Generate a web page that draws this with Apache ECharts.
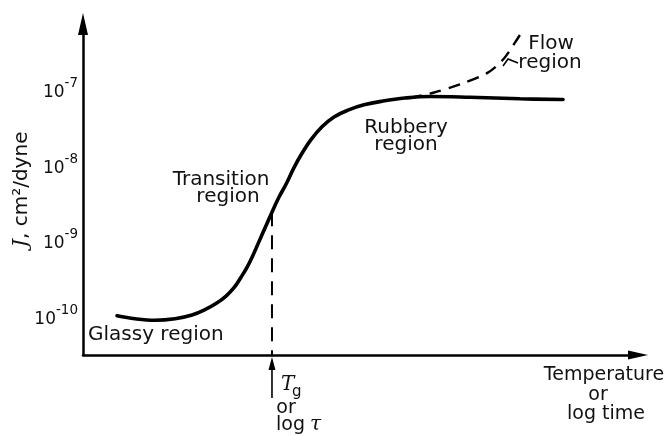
<!DOCTYPE html>
<html>
<head>
<meta charset="utf-8">
<script src="https://cdn.jsdelivr.net/npm/echarts@6/dist/echarts.min.js"></script>
<style>
  html, body { margin: 0; padding: 0; background: #fff; }
  #chart { width: 671px; height: 436px; }
</style>
</head>
<body>
<div id="chart"></div>
<script>
// Creep compliance J (log10 of cm^2/dyne) against temperature / log time (arbitrary units)
const curveX    = [6.13, 9.37, 12.97, 16.58, 19.64, 21.98, 23.96, 25.77, 27.21, 28.47, 29.55, 30.63, 31.71, 32.79, 34.05,
                   35.32, 36.58, 38.02, 39.46, 41.08, 43.06, 45.23, 47.75, 50.63, 54.05, 58.02, 62.52, 69.73, 78.74, 86.49];
const curveLogJ = [-9.95, -9.99, -10.01, -9.99, -9.94, -9.87, -9.79, -9.69, -9.58, -9.44, -9.31, -9.15, -8.97, -8.79, -8.58,
                   -8.38, -8.21, -7.99, -7.80, -7.62, -7.45, -7.32, -7.23, -7.16, -7.11, -7.07, -7.05, -7.06, -7.08, -7.09];

// viscous flow branch leaving the rubbery plateau
const flowX    = [58.9, 63.1, 67.9, 72.8, 75.7, 77.8, 79.1];
const flowLogJ = [-7.07, -7.00, -6.89, -6.74, -6.56, -6.34, -6.19];

// glass transition marker
const tgX = 34.05;
const tgLogJ = -8.58;

// decade labels on the compliance axis
const yTickExponents = [-10, -9, -8, -7];

const xRange = [0, 100];
const yRange = [-10.47, -6.09];

const SANS = '"DejaVu Sans", sans-serif';
const SERIF = '"DejaVu Serif", serif';
const INK = '#111';

const zip = (xs, ys) => xs.map((x, i) => [x, ys[i]]);

const chart = echarts.init(document.getElementById('chart'), null, { renderer: 'canvas' });

const option = {
  animation: false,
  backgroundColor: '#fff',
  grid: { left: 83, right: 33, top: 24, bottom: 81, containLabel: false, outerBoundsMode: 'none' },
  xAxis: {
    type: 'value',
    min: xRange[0],
    max: xRange[1],
    axisLine: {
      show: true,
      symbol: ['none', 'triangle'],
      symbolSize: [9, 20],
      lineStyle: { color: '#000', width: 2.5 }
    },
    axisTick: { show: false },
    axisLabel: { show: false },
    splitLine: { show: false }
  },
  yAxis: {
    type: 'value',
    min: yRange[0],
    max: yRange[1],
    name: '{j|J}, cm²/dyne',
    nameLocation: 'middle',
    nameRotate: 90,
    nameGap: 51,
    nameMoveOverlap: false,
    nameTextStyle: {
      fontFamily: SANS,
      fontSize: 20,
      color: INK,
      rich: {
        j: { fontFamily: SERIF, fontStyle: 'italic', fontSize: 21, color: INK }
      }
    },
    axisLine: {
      show: true,
      symbol: ['none', 'triangle'],
      symbolSize: [10, 22],
      lineStyle: { color: '#000', width: 2.5 }
    },
    axisTick: { show: false },
    splitLine: { show: false },
    axisLabel: {
      customValues: yTickExponents,
      margin: 5,
      formatter: v => '{b|10}{e|' + Math.round(v) + '}',
      rich: {
        b: { fontFamily: SANS, fontSize: 17, color: INK },
        e: { fontFamily: SANS, fontSize: 13.5, color: INK, padding: [0, 0, 18, 0] }
      }
    }
  },
  series: [
    {
      name: 'compliance',
      type: 'line',
      data: zip(curveX, curveLogJ),
      smooth: 0.4,
      symbol: 'none',
      lineStyle: { color: '#000', width: 3.6, cap: 'round' },
      z: 3
    },
    {
      name: 'flow',
      type: 'line',
      data: zip(flowX, flowLogJ),
      smooth: 0.3,
      symbol: 'none',
      lineStyle: { color: '#000', width: 2.4, type: [12, 8] },
      z: 2
    },
    {
      name: 'Tg',
      type: 'line',
      data: [[tgX, tgLogJ], [tgX, yRange[0]]],
      symbol: 'none',
      lineStyle: { color: '#000', width: 2, type: [14, 9] },
      z: 2
    }
  ]
};

chart.setOption(option);

// annotations
function label(text, x, y, size, extra) {
  return {
    type: 'text',
    x: x,
    y: y,
    silent: true,
    style: Object.assign({
      text: text,
      font: size + 'px ' + SANS,
      fill: INK,
      align: 'center',
      verticalAlign: 'middle',
      textAlign: 'center',
      textVerticalAlign: 'middle'
    }, extra || {})
  };
}

const tgPx = chart.convertToPixel({ xAxisIndex: 0 }, tgX);
const axisY = chart.convertToPixel({ yAxisIndex: 0 }, yRange[0]);

const graphics = [
  label('Glassy region', 88, 335, 20, { align: 'left', textAlign: 'left' }),
  label('Transition', 221, 180, 20),
  label('region', 228, 197, 20),
  label('Rubbery', 406, 128, 20),
  label('region', 406, 145, 20),
  label('Flow', 551, 44, 20),
  label('region', 550, 63, 20),
  label('Temperature', 604, 375, 19),
  label('or', 598, 395, 19),
  label('log time', 606, 414, 19),
  // Tg arrow and its caption
  {
    type: 'line',
    silent: true,
    shape: { x1: tgPx, y1: axisY + 12, x2: tgPx, y2: axisY + 43 },
    style: { stroke: '#000', lineWidth: 1.6 }
  },
  {
    type: 'polygon',
    silent: true,
    shape: { points: [[tgPx, axisY + 2], [tgPx - 3.5, axisY + 15], [tgPx + 3.5, axisY + 15]] },
    style: { fill: '#000' }
  },
  label('T', tgPx + 9, axisY + 30, 20, { font: 'italic 20px ' + SERIF, align: 'left', textAlign: 'left' }),
  label('g', tgPx + 20, axisY + 37, 15, { align: 'left', textAlign: 'left' }),
  label('or', tgPx + 14, axisY + 53, 19),
  label('log', tgPx + 4, axisY + 70, 19, { align: 'left', textAlign: 'left' }),
  label('τ', tgPx + 38, axisY + 70, 20, { font: 'italic 20px ' + SERIF, align: 'left', textAlign: 'left' }),
  // leader from the flow label to the dashed branch
  {
    type: 'polyline',
    silent: true,
    shape: { points: [[503, 66], [508, 59], [518, 63]] },
    style: { stroke: '#000', lineWidth: 1.5, fill: null }
  }
];

chart.setOption({ graphic: { elements: graphics } });
</script>
</body>
</html>
